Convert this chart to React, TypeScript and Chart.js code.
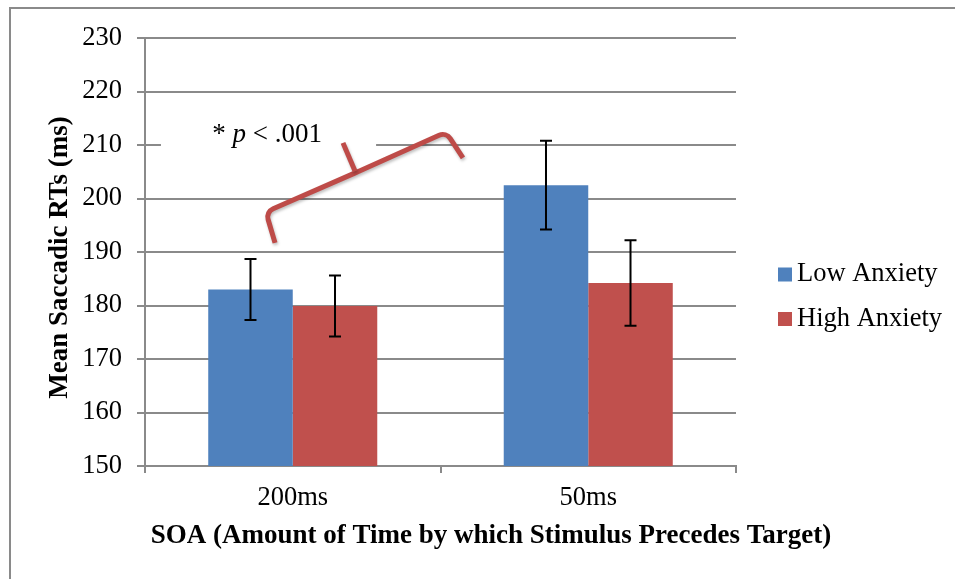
import React, { useEffect, useRef } from 'react';
import { Chart, registerables } from 'chart.js';

Chart.register(...registerables);

// ---- data ----
const categories = ['200ms', '50ms'];
const seriesNames = ['Low Anxiety', 'High Anxiety'];
const lowAnxiety = [183.0, 202.5];
const highAnxiety = [179.9, 184.2];
const lowAnxietyErr = [5.7, 8.3];
const highAnxietyErr = [5.7, 8.0];
const yMin = 150;
const yMax = 230;
const yStep = 10;
const yAxisTitle = 'Mean Saccadic RTs (ms)';
const xAxisTitle = 'SOA (Amount of Time by which Stimulus Precedes Target)';
const noteParts = ['* ', 'p', ' < .001'];
// annotation anchor points in data units (category index, ms)
const noteAnchor = [-0.272, 210.6];
const noteBox = [-0.446, 216.2, 0.282, 207.2];
const braceMain = [
  [-0.06, 191.7],
  [-0.091, 197.5],
  [0.204, 204.6],
  [0.224, 205.1],
  [0.519, 212.4],
  [0.576, 207.6],
];
const braceSpike = [
  [0.211, 205.1],
  [0.17, 210.4],
];

// ---- style ----
const BLUE = '#4F81BD';
const RED = '#C0504D';
const BRACE = '#BE4B48';
const GRID = '#8A8A8A';
const SERIF = '"Liberation Serif", "Times New Roman", Times, serif';

function roundedPolyline(ctx: CanvasRenderingContext2D, pts: number[][], r: number) {
  ctx.beginPath();
  ctx.moveTo(pts[0][0], pts[0][1]);
  for (let i = 1; i < pts.length - 1; i++) {
    ctx.arcTo(pts[i][0], pts[i][1], pts[i + 1][0], pts[i + 1][1], r);
  }
  const last = pts[pts.length - 1];
  ctx.lineTo(last[0], last[1]);
  ctx.stroke();
}

const backgroundPlugin = {
  id: 'bgFrame',
  beforeDraw(chart: any) {
    const ctx = chart.ctx as CanvasRenderingContext2D;
    ctx.save();
    ctx.fillStyle = '#fff';
    ctx.fillRect(0, 0, chart.width, chart.height);
    ctx.strokeStyle = GRID;
    ctx.lineWidth = 2;
    ctx.beginPath();
    ctx.moveTo(10, chart.height + 2);
    ctx.lineTo(10, 8);
    ctx.lineTo(chart.width + 2, 8);
    ctx.stroke();
    ctx.restore();
  },
};

const overlayPlugin = {
  id: 'overlay',
  afterDatasetsDraw(chart: any) {
    const ctx = chart.ctx as CanvasRenderingContext2D;
    const xs = chart.scales.x;
    const ys = chart.scales.y;
    ctx.save();
    // error bars
    chart.data.datasets.forEach((ds: any, i: number) => {
      const meta = chart.getDatasetMeta(i);
      meta.data.forEach((el: any, j: number) => {
        const v = ds.data[j];
        const e = ds.errors[j];
        const top = ys.getPixelForValue(v + e);
        const bot = ys.getPixelForValue(v - e);
        ctx.strokeStyle = '#000';
        ctx.lineWidth = 2;
        ctx.beginPath();
        ctx.moveTo(el.x, top);
        ctx.lineTo(el.x, bot);
        ctx.moveTo(el.x - 6, top);
        ctx.lineTo(el.x + 6, top);
        ctx.moveTo(el.x - 6, bot);
        ctx.lineTo(el.x + 6, bot);
        ctx.stroke();
      });
    });
    // annotation box + text
    const bx1 = xs.getPixelForValue(noteBox[0]);
    const by1 = ys.getPixelForValue(noteBox[1]);
    const bx2 = xs.getPixelForValue(noteBox[2]);
    const by2 = ys.getPixelForValue(noteBox[3]);
    ctx.fillStyle = '#fff';
    ctx.fillRect(bx1, by1, bx2 - bx1, by2 - by1);
    let tx = xs.getPixelForValue(noteAnchor[0]);
    const ty = ys.getPixelForValue(noteAnchor[1]);
    ctx.fillStyle = '#000';
    ctx.textBaseline = 'alphabetic';
    ctx.textAlign = 'left';
    noteParts.forEach((part, k) => {
      ctx.font = (k === 1 ? 'italic ' : '') + '27px ' + SERIF;
      ctx.fillText(part, tx, ty);
      tx += ctx.measureText(part).width;
    });
    // brace
    const toPx = (p: number[]) => [xs.getPixelForValue(p[0]), ys.getPixelForValue(p[1])];
    ctx.strokeStyle = BRACE;
    ctx.lineWidth = 5;
    ctx.lineJoin = 'round';
    ctx.lineCap = 'butt';
    ctx.shadowColor = 'rgba(0,0,0,0.25)';
    ctx.shadowBlur = 3;
    ctx.shadowOffsetX = 1;
    ctx.shadowOffsetY = 2;
    roundedPolyline(ctx, braceMain.map(toPx), 9);
    roundedPolyline(ctx, braceSpike.map(toPx), 4);
    ctx.restore();
  },
  afterDraw(chart: any) {
    const ctx = chart.ctx as CanvasRenderingContext2D;
    ctx.save();
    ctx.fillStyle = '#000';
    // axis titles
    ctx.font = 'bold 27px ' + SERIF;
    ctx.textAlign = 'center';
    ctx.textBaseline = 'middle';
    ctx.fillText(xAxisTitle, 491, 536);
    ctx.save();
    ctx.translate(60, 257.5);
    ctx.rotate(-Math.PI / 2);
    ctx.fillText(yAxisTitle, 0, 0);
    ctx.restore();
    // legend
    ctx.textAlign = 'left';
    ctx.font = '26.5px ' + SERIF;
    chart.data.datasets.forEach((ds: any, i: number) => {
      const cy = 274.5 + i * 44.5;
      ctx.fillStyle = ds.backgroundColor;
      ctx.fillRect(778, cy - 7, 14, 14);
      ctx.fillStyle = '#000';
      ctx.fillText(ds.label, 797, cy);
    });
    ctx.restore();
  },
};

export default function App() {
  const ref = useRef<HTMLCanvasElement>(null);
  useEffect(() => {
    const canvas = ref.current as HTMLCanvasElement;
    const tickFont = { family: SERIF, size: 26.5, lineHeight: 1.2 };
    const chart = new Chart(canvas, {
      type: 'bar',
      data: {
        labels: categories,
        datasets: [
          { label: seriesNames[0], data: lowAnxiety, backgroundColor: BLUE, errors: lowAnxietyErr } as any,
          { label: seriesNames[1], data: highAnxiety, backgroundColor: RED, errors: highAnxietyErr } as any,
        ],
      },
      options: {
        responsive: false,
        animation: false,
        devicePixelRatio: 1,
        layout: { padding: { left: 0, top: 38, right: 219, bottom: 0 } },
        datasets: { bar: { categoryPercentage: 0.572, barPercentage: 1 } },
        plugins: { legend: { display: false }, tooltip: { enabled: false } },
        scales: {
          x: {
            grid: { display: true, drawOnChartArea: false, drawTicks: true, tickLength: 7, color: GRID, lineWidth: 2, offset: true },
            border: { display: true, color: GRID, width: 2 },
            ticks: { color: '#000', font: tickFont, padding: 9 },
            afterFit: (s: any) => { s.height = 113; },
          },
          y: {
            min: yMin,
            max: yMax,
            ticks: { stepSize: yStep, color: '#000', font: tickFont, padding: 15 },
            grid: { color: GRID, lineWidth: 2, tickLength: 8 },
            border: { display: true, color: GRID, width: 2 },
            afterFit: (s: any) => { s.width = 145; },
          },
        },
      } as any,
      plugins: [backgroundPlugin, overlayPlugin],
    });
    return () => chart.destroy();
  }, []);
  return (
    <div style={{ position: 'fixed', left: 0, top: 0, width: 955, height: 579, background: '#fff' }}>
      <canvas ref={ref} width={955} height={579} style={{ display: 'block' }} />
    </div>
  );
}
